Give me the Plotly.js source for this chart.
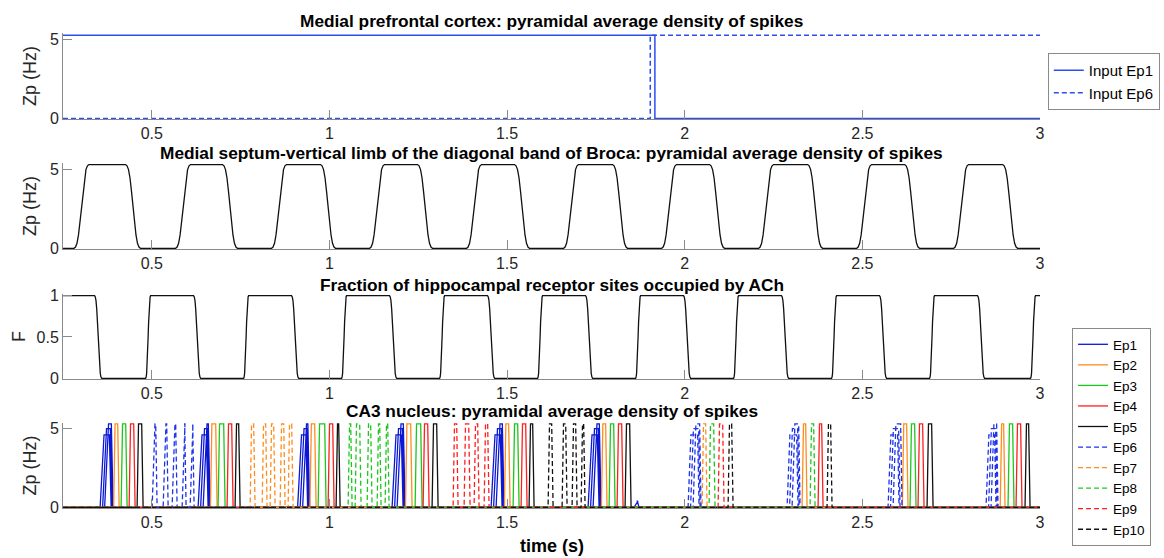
<!DOCTYPE html>
<html><head><meta charset="utf-8">
<script src="https://cdn.plot.ly/plotly-3.0.1.min.js"></script>
<style>html,body{margin:0;padding:0;background:#fff}#chart{width:1164px;height:558px}</style>
</head><body><div id="chart"></div>
<script>
// ---------------- data ----------------
const timeRange = [0.25, 3];
const xTickVals = [0.5, 1, 1.5, 2, 2.5, 3];
const xTickText = ['0.5', '1', '1.5', '2', '2.5', '3'];
const zpTickVals = [0, 5];
const fTickVals = [0, 0.5, 1];
const fTickText = ['0', '0.5', '1'];

// Panel 1: medial prefrontal cortex input
const inputEp1T = [0.25, 1.916, 1.916, 3];
const inputEp1Z = [5.25, 5.25, 0, 0];
const inputEp6T = [0.25, 1.903, 1.903, 3];
const inputEp6Z = [0, 0, 5.25, 5.25];

// Panel 2: medial septum (rise / fall mid-times, plateau level)
const septumRise = [0.302, 0.588, 0.858, 1.134, 1.407, 1.680, 1.956, 2.229, 2.505, 2.778];
const septumFall = [0.447, 0.720, 0.996, 1.269, 1.542, 1.818, 2.091, 2.367, 2.640, 2.916];
const septumPeak = 5.3;

// Panel 3: fraction of ACh receptor sites (starts high)
const achFall = [0.3489, 0.6275, 0.9033, 1.1791, 1.4550, 1.7308, 2.0066, 2.2824, 2.5582, 2.8341];
const achRise = [0.4896, 0.7654, 1.0412, 1.3171, 1.5929, 1.8687, 2.1445, 2.4203, 2.6961, 2.9804];
const achHigh = 1.0;

// Panel 4: CA3 pulses (onset / offset times, peaks)
const ep1On  = [0.3545,0.3615,0.3672, 0.6303,0.6374,0.6444, 0.9104,0.9175,0.9245, 1.1763,1.1834,1.1904, 1.4550,1.4620,1.4690, 1.7280,1.7350,1.7420, 1.8574];
const ep1Off = [0.3855,0.3883,0.3911, 0.6585,0.6613,0.6641, 0.9386,0.9414,0.9442, 1.2073,1.2101,1.2129, 1.4859,1.4888,1.4916, 1.7589,1.7617,1.7646, 1.8715];
const ep1Peak= [4.6,5.0,5.3, 4.6,5.0,5.3, 4.6,5.0,5.3, 4.6,5.0,5.3, 4.6,5.0,5.3, 4.6,5.0,5.3, 0.4];
const ep2On  = [0.3925, 0.6650, 0.9450, 1.2140, 1.4925, 1.7655, 2.3303, 2.6125, 2.8880];
const ep2Off = [0.4080, 0.6838, 0.9624, 1.2326, 1.5084, 1.7814, 2.3444, 2.6286, 2.9016];
const ep3On  = [0.4136, 0.6866, 0.9681, 1.2411, 1.5169, 1.7871, 2.6342, 2.9100];
const ep3Off = [0.4305, 0.7063, 0.9906, 1.2608, 1.5338, 1.8040, 2.6511, 2.9269];
const ep4On  = [0.4361, 0.7119, 0.9962, 1.2636, 1.5394, 1.8096, 2.3753, 2.6567, 2.9326];
const ep4Off = [0.4530, 0.7288, 1.0131, 1.2805, 1.5563, 1.8265, 2.3894, 2.6736, 2.9494];
const ep5On  = [0.4586, 0.7344, 1.0187, 1.2889, 1.5619, 1.8321, 2.6821, 2.9579];
const ep5Off = [0.4755, 0.7485, 1.0300, 1.3058, 1.5760, 1.8490, 2.6990, 2.9720];
const ep6On  = [0.5009,0.5318,0.5571,0.5853,0.6078, 2.0094,2.0165,2.0235, 2.2881,2.2951,2.3021, 2.5723,2.5793,2.5864, 2.8481,2.8552,2.8622];
const ep6Off = [0.5149,0.5459,0.5712,0.5965,0.6191, 2.0404,2.0432,2.0460, 2.3190,2.3218,2.3247, 2.6033,2.6061,2.6117, 2.8763,2.8791,2.8819];
const ep6Peak= [5.3,5.3,5.3,5.3,5.3, 4.6,5.0,5.3, 4.6,5.0,5.3, 4.6,5.0,5.3, 4.6,5.0,5.3];
const ep7On  = [0.7767, 0.8105, 0.8330, 0.8611, 0.8836, 2.0488];
const ep7Off = [0.7907, 0.8245, 0.8470, 0.8752, 0.8977, 2.0629];
const ep8On  = [1.0525, 1.0722, 1.1060, 1.1341, 1.1566, 2.0685, 2.3528];
const ep8Off = [1.0638, 1.0891, 1.1200, 1.1454, 1.1679, 2.0854, 2.3669];
const ep9On  = [1.3480, 1.3790, 1.4071, 1.4353, 2.0939];
const ep9Off = [1.3621, 1.3959, 1.4212, 1.4493, 2.1108];
const ep10On = [1.6154, 1.6548, 1.6829, 1.7083, 2.1220, 2.4006];
const ep10Off= [1.6295, 1.6689, 1.6970, 1.7195, 2.1361, 2.4147];
const ca3Peak = 5.3;

// ---------------- drawing helpers (style only) ----------------
const FONT = 'Liberation Sans, Arial, Helvetica, sans-serif';
const AXC = '#8a8a8a';
const EDGE_U = [0, 0.1, 0.2, 0.3, 0.4, 0.5, 0.6, 0.7, 0.8, 0.9, 1];
const EDGE_V = [0, 0.015, 0.06, 0.16, 0.32, 0.5, 0.68, 0.84, 0.94, 0.985, 1];

function pushEdge(xs, ys, mid, dur, from, to) {
  for (let k = 0; k < EDGE_U.length; k++) {
    xs.push(mid - dur / 2 + EDGE_U[k] * dur);
    ys.push(from + (to - from) * EDGE_V[k]);
  }
}
function squareWave(riseMid, fallMid, level, startHigh, riseDur, fallDur) {
  const ev = [];
  riseMid.forEach(t => ev.push([t, 'r']));
  fallMid.forEach(t => ev.push([t, 'f']));
  ev.sort((a, b) => a[0] - b[0]);
  const xs = [timeRange[0]], ys = [startHigh ? level : 0];
  let hi = startHigh;
  ev.forEach(([t, kind]) => {
    if (kind === 'r') { pushEdge(xs, ys, t, riseDur, 0, level); hi = true; }
    else { pushEdge(xs, ys, t, fallDur, level, 0); hi = false; }
  });
  xs.push(timeRange[1]); ys.push(hi ? level : 0);
  return {x: xs, y: ys};
}
function pulseTrain(on, off, peak, rise, fall) {
  const xs = [timeRange[0]], ys = [0];
  for (let i = 0; i < on.length; i++) {
    const p = peak ? peak[i] : ca3Peak;
    xs.push(on[i], on[i] + rise, off[i] - fall, off[i]);
    ys.push(0, p, p, 0);
  }
  xs.push(timeRange[1]); ys.push(0);
  return {x: xs, y: ys};
}

const BLUE = '#0b17d6', BLUE2 = '#1f33ea', ORANGE = '#ff8c1f', GREEN = '#1cc71c', RED = '#ff1f1f', BLACK = '#111111';
const DASH = '5px,3px';
const traces = [];

traces.push({x: inputEp1T, y: inputEp1Z, type: 'scatter', mode: 'lines', name: 'Input Ep1',
  line: {color: '#2d4df0', width: 1.5}, xaxis: 'x', yaxis: 'y', legend: 'legend'});
traces.push({x: inputEp6T, y: inputEp6Z, type: 'scatter', mode: 'lines', name: 'Input Ep6',
  line: {color: '#2d4df0', width: 1.5, dash: DASH}, xaxis: 'x', yaxis: 'y', legend: 'legend'});

const sw = squareWave(septumRise, septumFall, septumPeak, false, 0.042, 0.042);
traces.push({x: sw.x, y: sw.y, type: 'scatter', mode: 'lines', showlegend: false,
  line: {color: BLACK, width: 1.3}, xaxis: 'x2', yaxis: 'y2'});

const fw = squareWave(achRise, achFall, achHigh, true, 0.014, 0.02);
traces.push({x: fw.x, y: fw.y, type: 'scatter', mode: 'lines', showlegend: false,
  line: {color: BLACK, width: 1.3}, xaxis: 'x3', yaxis: 'y3'});

const ca3 = [
  ['Ep1', ep1On, ep1Off, ep1Peak, BLUE, null, 0.011, 0.005],
  ['Ep2', ep2On, ep2Off, null, ORANGE, null, 0.004, 0.004],
  ['Ep3', ep3On, ep3Off, null, GREEN, null, 0.004, 0.004],
  ['Ep4', ep4On, ep4Off, null, RED, null, 0.004, 0.004],
  ['Ep5', ep5On, ep5Off, null, BLACK, null, 0.004, 0.004],
  ['Ep6', ep6On, ep6Off, ep6Peak, BLUE2, DASH, 0.008, 0.004],
  ['Ep7', ep7On, ep7Off, null, ORANGE, DASH, 0.004, 0.004],
  ['Ep8', ep8On, ep8Off, null, GREEN, DASH, 0.004, 0.004],
  ['Ep9', ep9On, ep9Off, null, RED, DASH, 0.004, 0.004],
  ['Ep10', ep10On, ep10Off, null, BLACK, DASH, 0.004, 0.004]
];
ca3.forEach(([name, on, off, pk, color, dash, r, f]) => {
  const p = pulseTrain(on, off, pk, r, f);
  const line = {color: color, width: 1.3};
  if (dash) line.dash = dash;
  traces.push({x: p.x, y: p.y, type: 'scatter', mode: 'lines', name: name, line: line,
    xaxis: 'x4', yaxis: 'y4', legend: 'legend2'});
});

// ---------------- layout ----------------
const tickFont = {family: FONT, size: 16, color: '#262626'};
function xAxis(anchor) {
  return {domain: [0, 1], anchor: anchor, range: timeRange, tickvals: xTickVals, ticktext: xTickText,
    ticks: 'inside', ticklen: 9, tickcolor: AXC, tickwidth: 1, showline: true, linecolor: AXC, linewidth: 1,
    showgrid: false, zeroline: false, tickfont: tickFont, fixedrange: true};
}
function yAxis(anchor, dom, range, tv, tt, title, standoff) {
  return {domain: dom, anchor: anchor, range: range, tickvals: tv, ticktext: tt,
    ticks: 'inside', ticklen: 9, tickcolor: AXC, tickwidth: 1, showline: true, linecolor: AXC, linewidth: 1,
    showgrid: false, zeroline: false, tickfont: tickFont, fixedrange: true,
    title: {text: title, font: {family: FONT, size: 18, color: '#262626'}, standoff: standoff}};
}
const titleFont = {family: FONT, size: 17.3, color: '#000', weight: 'bold'};
function panelTitle(text, y) {
  return {text: text, xref: 'paper', yref: 'paper', x: 0.5, y: y, xanchor: 'center', yanchor: 'middle',
    showarrow: false, borderpad: 0, font: titleFont};
}

const layout = {
  width: 1164, height: 558, paper_bgcolor: '#fff', plot_bgcolor: '#fff',
  margin: {l: 63, r: 124, t: 33, b: 50, autoexpand: false},
  font: {family: FONT},
  xaxis: xAxis('y'), xaxis2: xAxis('y2'), xaxis3: xAxis('y3'), xaxis4: xAxis('y4'),
  yaxis: yAxis('x', [0.8189, 1.0], [-0.04, 5.4], zpTickVals, ['0', '5'], 'Zp (Hz)', 8),
  yaxis2: yAxis('x2', [0.5453, 0.7263], [-0.04, 5.4], zpTickVals, ['0', '5'], 'Zp (Hz)', 8),
  yaxis3: yAxis('x3', [0.2716, 0.4505], [-0.008, 1.02], fTickVals, fTickText, 'F', 6),
  yaxis4: yAxis('x4', [0.0, 0.1789], [-0.04, 5.35], zpTickVals, ['0', '5'], 'Zp (Hz)', 8),
  legend: {x: 1.008, y: 0.958, xanchor: 'left', yanchor: 'top', bordercolor: '#8a8a8a', borderwidth: 1,
    bgcolor: '#fff', font: {family: FONT, size: 15, color: '#000'}, tracegroupgap: 0},
  legend2: {x: 1.0328, y: 0.3789, xanchor: 'left', yanchor: 'top', bordercolor: '#8a8a8a', borderwidth: 1,
    bgcolor: '#fff', font: {family: FONT, size: 13.5, color: '#000'}, tracegroupgap: 0},
  annotations: [
    panelTitle('Medial prefrontal cortex: pyramidal average density of spikes', 1.0253),
    panelTitle('Medial septum-vertical limb of the diagonal band of Broca: pyramidal average density of spikes', 0.7474),
    panelTitle('Fraction of hippocampal receptor sites occupied by ACh', 0.4705),
    panelTitle('CA3 nucleus: pyramidal average density of spikes', 0.2042),
    {text: 'time (s)', xref: 'paper', yref: 'paper', x: 0.5, y: -0.081, xanchor: 'center', yanchor: 'middle',
      showarrow: false, borderpad: 0, font: {family: FONT, size: 18, color: '#000', weight: 'bold'}}
  ],
  showlegend: true
};

Plotly.newPlot('chart', traces, layout, {displayModeBar: false, staticPlot: true});
</script></body></html>
